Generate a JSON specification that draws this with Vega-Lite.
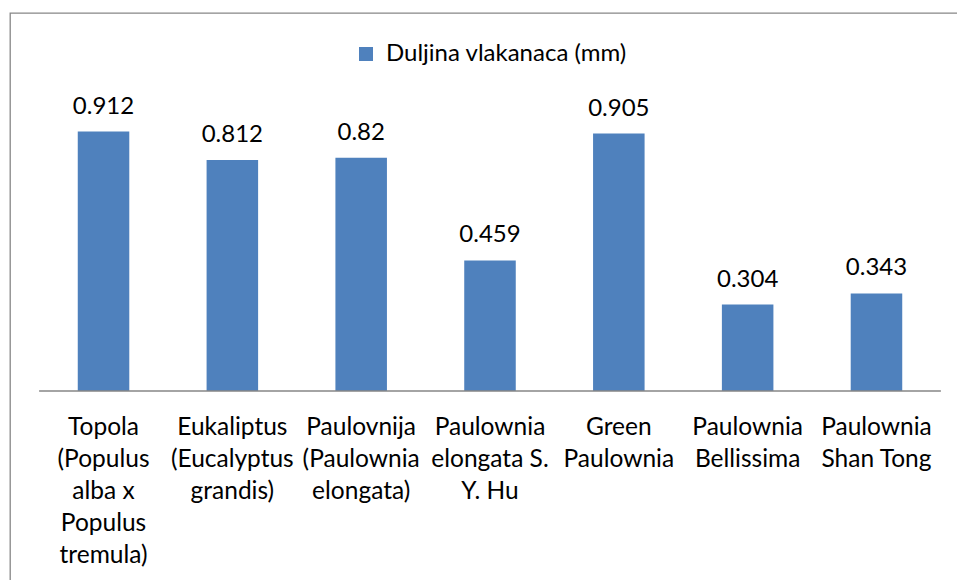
{
  "$schema": "https://vega.github.io/schema/vega-lite/v6.json",
  "width": 960,
  "height": 580,
  "autosize": {"type": "none"},
  "padding": {"left": 10, "top": 13, "right": 0, "bottom": 0},
  "background": "white",
  "config": {
    "view": {"stroke": "#878787", "strokeWidth": 1.3},
    "font": "Lato"
  },
  "data": {
    "values": [
      {"vrsta": "Topola\n(Populus\nalba x\nPopulus\ntremula)", "duljina": 0.912, "serija": "Duljina vlakanaca (mm)"},
      {"vrsta": "Eukaliptus\n(Eucalyptus\ngrandis)", "duljina": 0.812, "serija": "Duljina vlakanaca (mm)"},
      {"vrsta": "Paulovnija\n(Paulownia\nelongata)", "duljina": 0.82, "serija": "Duljina vlakanaca (mm)"},
      {"vrsta": "Paulownia\nelongata S.\nY. Hu", "duljina": 0.459, "serija": "Duljina vlakanaca (mm)"},
      {"vrsta": "Green\nPaulownia", "duljina": 0.905, "serija": "Duljina vlakanaca (mm)"},
      {"vrsta": "Paulownia\nBellissima", "duljina": 0.304, "serija": "Duljina vlakanaca (mm)"},
      {"vrsta": "Paulownia\nShan Tong", "duljina": 0.343, "serija": "Duljina vlakanaca (mm)"}
    ]
  },
  "encoding": {
    "x": {
      "field": "vrsta",
      "type": "nominal",
      "sort": null,
      "scale": {"paddingInner": 0.6, "paddingOuter": 0.526},
      "axis": {
        "orient": "bottom",
        "offset": -202,
        "title": null,
        "domain": false,
        "ticks": false,
        "tickSize": 0,
        "labelAngle": 0,
        "labelFontSize": 24.5,
        "labelLineHeight": 32,
        "labelColor": "#000000",
        "labelPadding": 24,
        "labelBaseline": "top",
        "labelLimit": 400,
        "labelOverlap": false,
        "labelBound": false,
        "labelFlush": false,
        "labelExpr": "split(datum.label, '\\n')"
      }
    }
  },
  "layer": [
    {
      "mark": {"type": "bar"},
      "encoding": {
        "y": {
          "field": "duljina",
          "type": "quantitative",
          "scale": {"domain": [-0.71, 1.3286], "nice": false, "zero": false},
          "axis": null
        },
        "color": {
          "field": "serija",
          "type": "nominal",
          "scale": {"range": ["#4F81BD"]},
          "legend": {
            "orient": "none",
            "legendX": 344,
            "legendY": 29,
            "direction": "horizontal",
            "title": null,
            "symbolType": "square",
            "symbolSize": 196,
            "symbolStrokeWidth": 0,
            "labelFontSize": 24,
            "labelColor": "#000000",
            "labelOffset": 8,
            "labelLimit": 400
          }
        }
      }
    },
    {
      "mark": {"type": "text", "baseline": "alphabetic", "dy": -18, "fontSize": 24, "color": "#000000"},
      "encoding": {
        "y": {"field": "duljina", "type": "quantitative"},
        "text": {"field": "duljina", "type": "quantitative"}
      }
    },
    {
      "data": {"values": [{"a": 1}]},
      "mark": {"type": "rule", "color": "#868686", "strokeWidth": 1.3},
      "encoding": {
        "x": {"datum": "Topola\n(Populus\nalba x\nPopulus\ntremula)", "bandPosition": -0.75},
        "x2": {"datum": "Paulownia\nShan Tong", "bandPosition": 1.75},
        "y": {"datum": 0}
      }
    }
  ]
}
